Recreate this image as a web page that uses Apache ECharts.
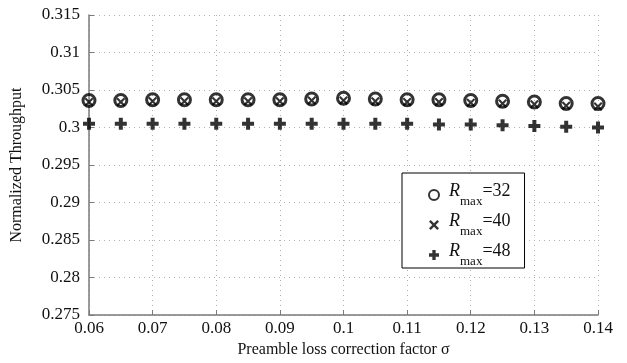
<!DOCTYPE html>
<html>
<head>
<meta charset="utf-8">
<script src="https://cdn.jsdelivr.net/npm/echarts@6/dist/echarts.min.js"></script>
<style>
  html, body { margin: 0; padding: 0; background: #fff; }
  #chart { width: 627px; height: 363px; }
</style>
</head>
<body>
<div id="chart"></div>
<script>
// preamble loss correction factor sigma
const sigma = [0.06, 0.065, 0.07, 0.075, 0.08, 0.085, 0.09, 0.095, 0.1,
  0.105, 0.11, 0.115, 0.12, 0.125, 0.13, 0.135, 0.14]

const rmax32 = [0.3036, 0.3036, 0.3037, 0.3037, 0.3037, 0.3037, 0.3037, 0.3038, 0.3039,
  0.3038, 0.3037, 0.3037, 0.3036, 0.3035, 0.3034, 0.3032, 0.3032]
const rmax40 = [0.3034, 0.3034, 0.3035, 0.3035, 0.3035, 0.3035, 0.3035, 0.3036, 0.3036,
  0.3035, 0.3034, 0.3034, 0.3033, 0.3032, 0.3031, 0.3029, 0.3028]
const rmax48 = [0.3005, 0.3005, 0.3005, 0.3005, 0.3005, 0.3005, 0.3005, 0.3005, 0.3005,
  0.3005, 0.3005, 0.3004, 0.3004, 0.3003, 0.3002, 0.3001, 0.3000]

const seriesNames = ['32', '40', '48']

const serif = 'Liberation Serif'
const crossPath = 'path://M0,2L2,0L6,4L10,0L12,2L8,6L12,10L10,12L6,8L2,12L0,10L4,6Z'
const plusPath = 'path://M4,0H8V4H12V8H8V12H4V8H0V4H4Z'

const pairs = (ys) => sigma.map((x, i) => [x, ys[i]])

const chart = echarts.init(document.getElementById('chart'))

const axisCommon = {
  axisLine: { show: true, onZero: false, lineStyle: { color: '#7a7a7a', width: 1.5 } },
  axisTick: { show: true, inside: true, length: 5, lineStyle: { color: '#7a7a7a' } },
  axisLabel: { color: '#111', fontFamily: serif, fontSize: 17 },
  splitLine: { show: true, lineStyle: { color: '#b0b0b0', type: [1, 4], width: 1 } },
  nameTextStyle: { color: '#111', fontFamily: serif, fontSize: 16 },
}

chart.setOption({
  animation: false,
  backgroundColor: '#fff',
  grid: { left: 89, right: 29, top: 15, bottom: 45 },
  xAxis: {
    type: 'value',
    min: 0.06,
    max: 0.14,
    interval: 0.01,
    name: 'Preamble loss correction factor σ',
    nameLocation: 'middle',
    nameGap: 27,
    ...axisCommon,
    axisLabel: { ...axisCommon.axisLabel, margin: 5 },
  },
  yAxis: {
    type: 'value',
    min: 0.275,
    max: 0.315,
    interval: 0.005,
    name: 'Normalized Throughput',
    nameLocation: 'middle',
    nameGap: 64,
    ...axisCommon,
    axisLabel: { ...axisCommon.axisLabel, margin: 9 },
  },
  legend: {
    orient: 'vertical',
    left: 402,
    top: 173,
    backgroundColor: '#fff',
    borderColor: '#000',
    borderWidth: 1,
    borderRadius: 0,
    padding: [9, 14, 0, 26],
    itemGap: 4,
    itemWidth: 12,
    itemHeight: 10,
    data: seriesNames.map(n => 'R' + n),
    formatter: (name) => '{r|R}{s|max}{n|=' + name.slice(1) + '}',
    textStyle: {
      rich: {
        r: { fontFamily: serif, fontStyle: 'italic', fontSize: 18, color: '#111', lineHeight: 26, verticalAlign: 'top' },
        s: { fontFamily: serif, fontSize: 13, color: '#111', lineHeight: 13, verticalAlign: 'bottom' },
        n: { fontFamily: serif, fontSize: 18, color: '#111', lineHeight: 26, verticalAlign: 'top' },
      },
      padding: [0, 0, 0, 4],
    },
  },
  series: [
    {
      name: 'R32',
      type: 'scatter',
      data: pairs(rmax32),
      symbol: 'circle',
      symbolSize: 12,
      itemStyle: { color: 'rgba(255,255,255,0)', borderColor: '#000', borderWidth: 3 },
      z: 3,
    },
    {
      name: 'R40',
      type: 'scatter',
      data: pairs(rmax40),
      symbol: crossPath,
      symbolSize: 9,
      itemStyle: { color: '#000' },
      z: 2,
    },
    {
      name: 'R48',
      type: 'scatter',
      data: pairs(rmax48),
      symbol: plusPath,
      symbolSize: 12,
      itemStyle: { color: '#000' },
      z: 2,
    },
  ],
})
</script>
</body>
</html>
